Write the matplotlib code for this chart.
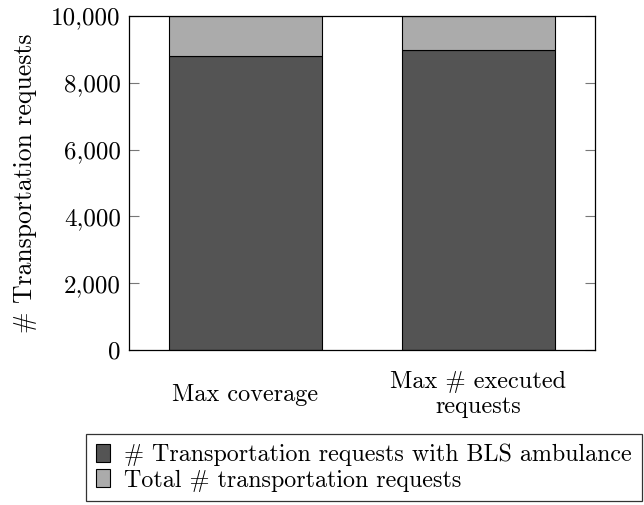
import matplotlib.pyplot as plt
from matplotlib.ticker import FuncFormatter

plt.rcParams['font.family'] = ['cmr10', 'DejaVu Serif']
plt.rcParams['mathtext.fontset'] = 'cm'
plt.rcParams['axes.formatter.use_mathtext'] = True

# data
categories = ["Max coverage", "Max # executed\nrequests"]
bls_requests = [8800, 8980]
total_requests = [10000, 10000]
series_labels = ["# Transportation requests with BLS ambulance",
                 "Total # transportation requests"]

fig = plt.figure(figsize=(6.44, 5.05), dpi=100)
ax = fig.add_axes([0.2003, 0.3069, 0.7236, 0.6614])

x = list(range(len(categories)))
rest = [t - b for t, b in zip(total_requests, bls_requests)]
b1 = ax.bar(x, bls_requests, width=0.657, color="#545454", edgecolor="black", linewidth=0.8)
b2 = ax.bar(x, rest, bottom=bls_requests, width=0.657, color="#ababab", edgecolor="black", linewidth=0.8)

ax.set_xlim(-0.5, 1.5)
ax.set_ylim(0, 10000)
ax.set_yticks(range(0, 10001, 2000))
ax.yaxis.set_major_formatter(FuncFormatter(lambda v, p: f"{int(v):,}"))
ax.set_xticks(x)
ax.set_xticklabels(categories, va="center", ha="center", linespacing=1.15)
ax.tick_params(axis="x", length=0, pad=32, labelsize=17.5)
ax.tick_params(axis="y", direction="in", left=True, right=True, length=7,
               color="#777777", labelsize=18, pad=6)
ax.set_ylabel("# Transportation requests", fontsize=18.5, labelpad=10)
for s in ax.spines.values():
    s.set_linewidth(0.9)

leg = fig.legend([b1, b2], series_labels, loc="upper left",
                 bbox_to_anchor=(86 / 644, 1 - 434 / 505), fontsize=17.3,
                 frameon=True, fancybox=False, edgecolor="black",
                 handlelength=0.6, handleheight=0.8, handletextpad=0.6,
                 borderaxespad=0, borderpad=0.4, labelspacing=0.12)
leg.get_frame().set_linewidth(0.9)

fig.savefig("out.png", dpi=100)
